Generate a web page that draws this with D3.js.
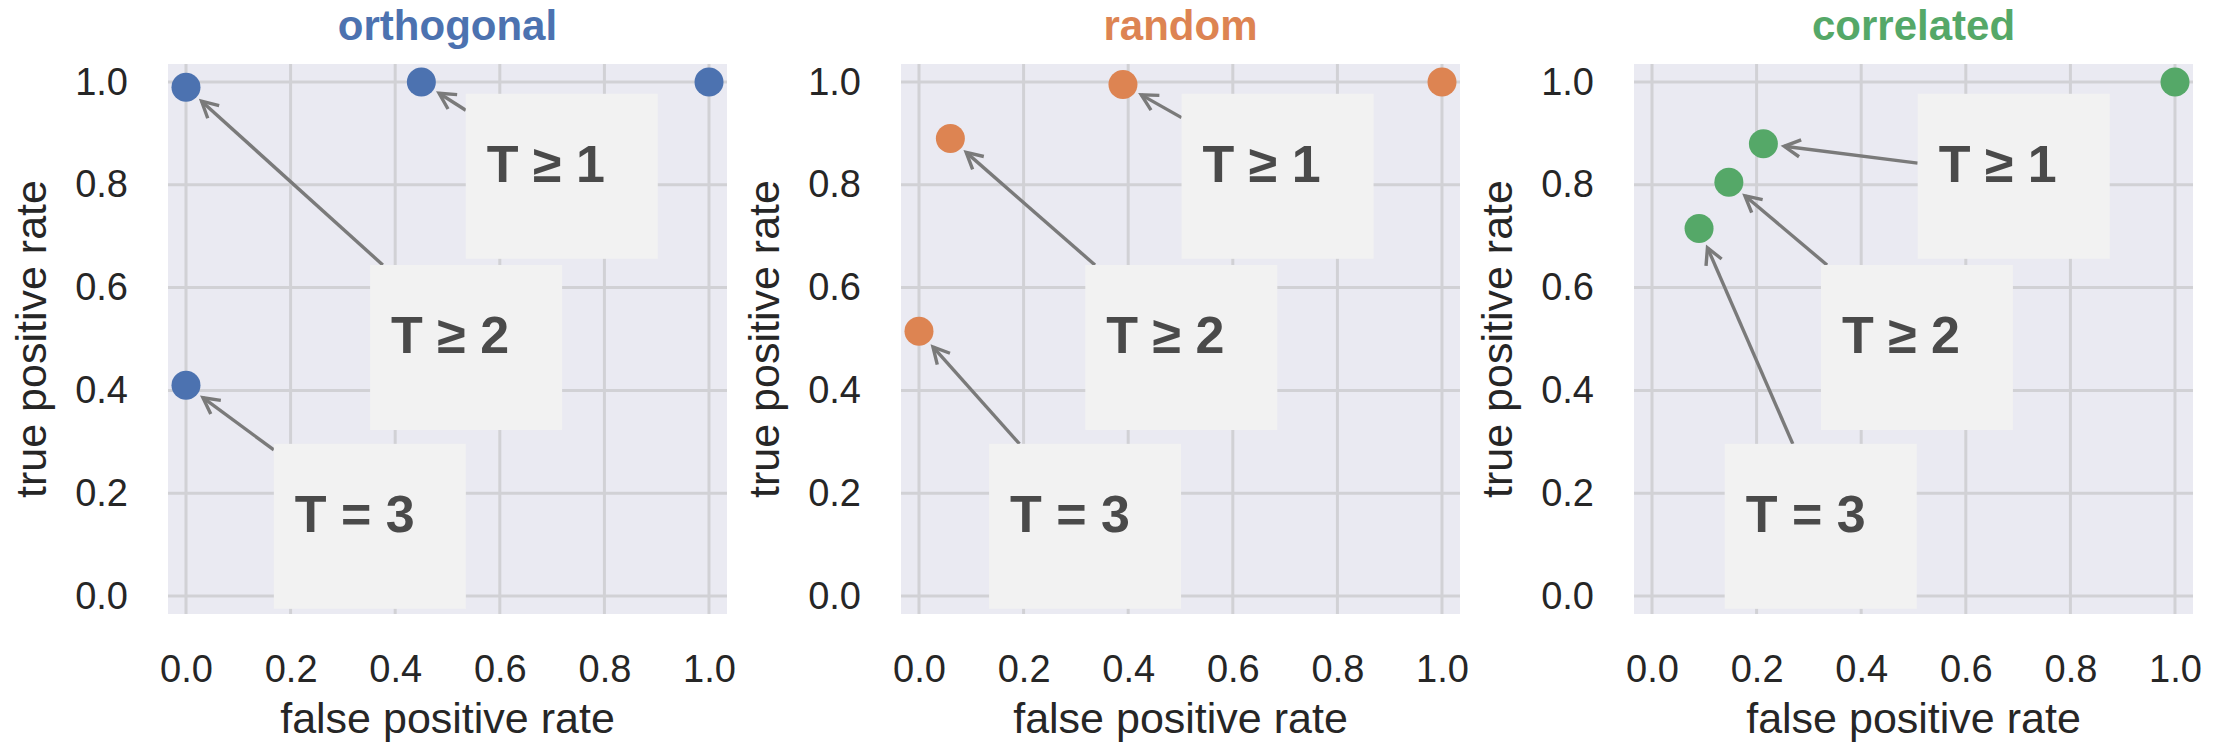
<!DOCTYPE html>
<html><head><meta charset="utf-8">
<script src="https://cdn.jsdelivr.net/npm/d3@7"></script>
<style>
body{margin:0;background:#fff}
svg{display:block}
text{font-family:"Liberation Sans",Arial,Helvetica,sans-serif}
</style>
</head><body><svg id="chart" width="2229" height="745"></svg>
<script>
// ---------------- data ----------------
const panelTitles = ["orthogonal", "random", "correlated"];
const panelColors = ["#4C72B0", "#DD8452", "#55A868"];
const fprOrthogonal = [0.0, 0.0, 0.45, 1.0];
const tprOrthogonal = [0.41, 0.99, 1.0, 1.0];
const fprRandom = [0.0, 0.06, 0.39, 1.0];
const tprRandom = [0.515, 0.89, 0.995, 1.0];
const fprCorrelated = [0.09, 0.147, 0.213, 1.0];
const tprCorrelated = [0.715, 0.805, 0.88, 1.0];
const annotationLabels = ["T = 3", "T \u2265 2", "T \u2265 1"];
const annotationBoxXOrthogonal = [0.168, 0.352, 0.535];
const annotationBoxXRandom = [0.134, 0.318, 0.502];
const annotationBoxXCorrelated = [0.139, 0.323, 0.508];
const annotationBoxY = [0.296, 0.644, 0.977];
const tickValues = [0.0, 0.2, 0.4, 0.6, 0.8, 1.0];
const tickLabels = ["0.0", "0.2", "0.4", "0.6", "0.8", "1.0"];
const xAxisTitle = "false positive rate";
const yAxisTitle = "true positive rate";

const fprs = [fprOrthogonal, fprRandom, fprCorrelated];
const tprs = [tprOrthogonal, tprRandom, tprCorrelated];
const boxXs = [annotationBoxXOrthogonal, annotationBoxXRandom, annotationBoxXCorrelated];

// ---------------- layout ----------------
const plotLeft0 = 168, panelStep = 733, plotW = 559, plotTop = 64, plotBottom = 614;
const xDomain = [-0.0344, 1.0344], yDomain = [-0.035, 1.035];
const boxW = 192, boxH = 165;
const bg = "#EAEAF2", gridColor = "#D1D1D5", textDark = "#262626", arrowColor = "#7A7A7A";

const svg = d3.select("#chart");

panelTitles.forEach((title, pi) => {
  const left = plotLeft0 + pi * panelStep;
  const x = d3.scaleLinear().domain(xDomain).range([left, left + plotW]);
  const y = d3.scaleLinear().domain(yDomain).range([plotBottom, plotTop]);
  const g = svg.append("g");

  // background
  g.append("rect").attr("x", left).attr("y", plotTop)
    .attr("width", plotW).attr("height", plotBottom - plotTop).attr("fill", bg);

  // grid
  g.selectAll(".vg").data(tickValues).join("line")
    .attr("x1", d => x(d)).attr("x2", d => x(d))
    .attr("y1", plotTop).attr("y2", plotBottom)
    .attr("stroke", gridColor).attr("stroke-width", 3);
  g.selectAll(".hg").data(tickValues).join("line")
    .attr("y1", d => y(d)).attr("y2", d => y(d))
    .attr("x1", left).attr("x2", left + plotW)
    .attr("stroke", gridColor).attr("stroke-width", 3);

  // axes
  const xa = g.append("g").attr("transform", `translate(0,${plotBottom})`)
    .call(d3.axisBottom(x).tickValues(tickValues).tickFormat((d, i) => tickLabels[i]).tickSize(0).tickPadding(41));
  const ya = g.append("g").attr("transform", `translate(${left},0)`)
    .call(d3.axisLeft(y).tickValues(tickValues).tickFormat((d, i) => tickLabels[i]).tickSize(0).tickPadding(40));
  [xa, ya].forEach(a => {
    a.select(".domain").remove();
    a.attr("font-family", null).attr("font-size", null);
    a.selectAll("text").attr("font-size", 38).attr("fill", textDark);
  });

  // axis titles
  g.append("text").attr("x", left + plotW / 2).attr("y", 733)
    .attr("text-anchor", "middle").attr("font-size", 43).attr("fill", textDark).text(xAxisTitle);
  g.append("text").attr("transform", `translate(${left - 122},${(plotTop + plotBottom) / 2}) rotate(-90)`)
    .attr("text-anchor", "middle").attr("font-size", 43).attr("fill", textDark).text(yAxisTitle);

  // title
  g.append("text").attr("x", left + plotW / 2).attr("y", 40)
    .attr("text-anchor", "middle").attr("font-size", 42).attr("font-weight", "bold")
    .attr("fill", panelColors[pi]).text(title);

  // points
  const pts = fprs[pi].map((f, i) => ({ f, t: tprs[pi][i] }));
  g.selectAll(".pt").data(pts).join("circle")
    .attr("cx", d => x(d.f)).attr("cy", d => y(d.t)).attr("r", 14.5)
    .attr("fill", panelColors[pi]);

  // annotations
  annotationLabels.forEach((lab, ai) => {
    const bx = x(boxXs[pi][ai]), by = y(annotationBoxY[ai]);
    const px = x(fprs[pi][ai]), py = y(tprs[pi][ai]);
    const cx = bx + boxW / 2 + 8, cy = by + boxH / 2;
    const dx = px - cx, dy = py - cy;
    const len = Math.hypot(dx, dy);
    const t = Math.min((cx - bx) / Math.abs(dx || 1e-9), (boxH / 2) / Math.abs(dy || 1e-9));
    const sx = cx + dx * t, sy = cy + dy * t;
    const ux = dx / len, uy = dy / len;
    const ex = px - ux * 21, ey = py - uy * 21;
    const hl = 16, hw = 8.5;
    const bxh = ex - ux * hl, byh = ey - uy * hl;
    const nx = -uy, ny = ux;
    g.append("line").attr("x1", sx).attr("y1", sy).attr("x2", ex).attr("y2", ey)
      .attr("stroke", arrowColor).attr("stroke-width", 3.4);
    g.append("path")
      .attr("d", `M${bxh + nx * hw},${byh + ny * hw} L${ex},${ey} L${bxh - nx * hw},${byh - ny * hw}`)
      .attr("fill", "none").attr("stroke", arrowColor).attr("stroke-width", 3.4);
    g.append("rect").attr("x", bx).attr("y", by).attr("width", boxW).attr("height", boxH)
      .attr("fill", "#F2F2F2");
    g.append("text").attr("x", bx + 21).attr("y", by + 88.5)
      .attr("font-size", 52).attr("font-weight", "bold").attr("fill", "#4A4A4A").text(lab);
  });
});
</script>
</body></html>
